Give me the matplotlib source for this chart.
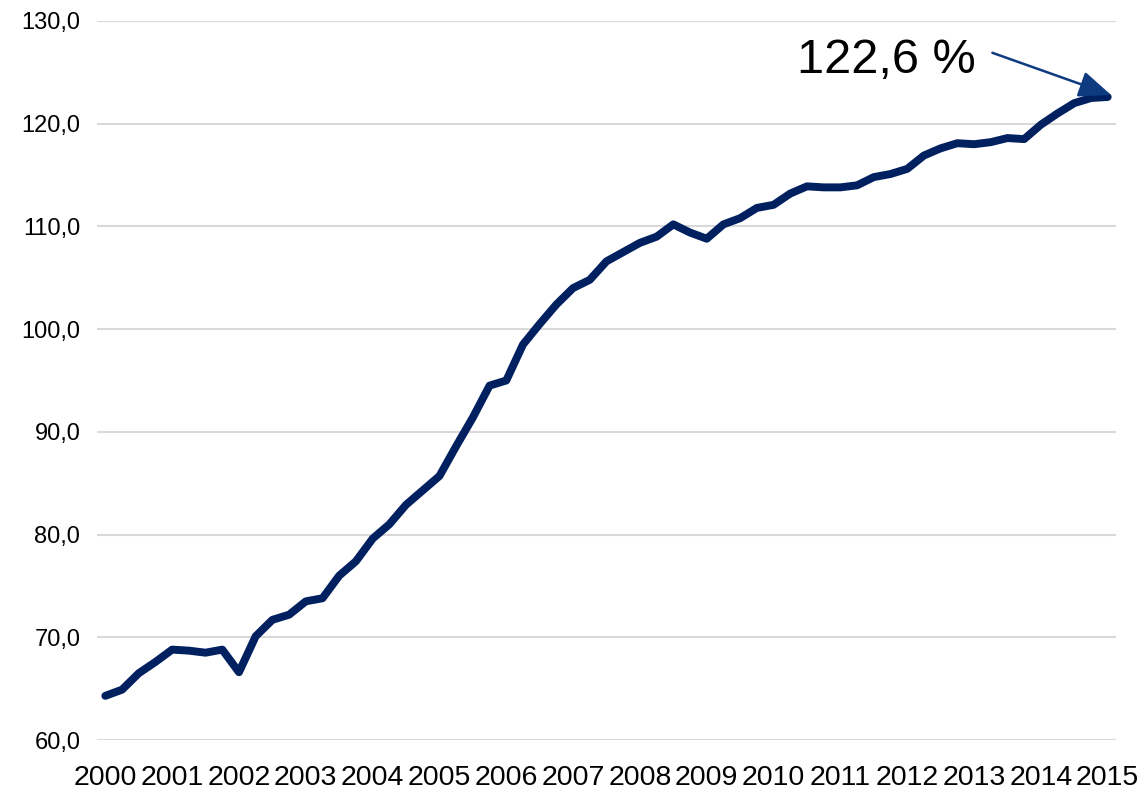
import matplotlib
matplotlib.use("Agg")
import matplotlib.pyplot as plt
from matplotlib.ticker import FuncFormatter

# quarterly index, 2000 Q1 .. 2015 Q1
values = [
    64.3, 64.9, 66.5, 67.6,
    68.8, 68.7, 68.5, 68.8,
    66.6, 70.1, 71.7, 72.2,
    73.5, 73.8, 76.0, 77.4,
    79.6, 81.0, 82.9, 84.3,
    85.7, 88.6, 91.4, 94.5,
    95.0, 98.5, 100.5, 102.4,
    104.0, 104.8, 106.6, 107.5,
    108.4, 109.0, 110.2, 109.4,
    108.8, 110.2, 110.8, 111.8,
    112.1, 113.2, 113.9, 113.8,
    113.8, 114.0, 114.8, 115.1,
    115.6, 116.9, 117.6, 118.1,
    118.0, 118.2, 118.6, 118.5,
    119.9, 121.0, 122.0, 122.5,
    122.6,
]
years = [str(y) for y in range(2000, 2016)]
y_ticks = [60, 70, 80, 90, 100, 110, 120, 130]
last_label = "122,6 %"

plt.rcParams["font.family"] = ["Liberation Sans", "DejaVu Sans"]

fig = plt.figure(figsize=(11.45, 7.94), dpi=100)
ax = fig.add_axes([0.0847, 0.068, 0.89, 0.9056])

x = list(range(len(values)))
ax.plot(x, values, color="#002060", lw=5.7, solid_joinstyle="round",
        solid_capstyle="round", zorder=3)

ax.set_xlim(-0.5, len(values) - 0.5)
ax.set_ylim(60, 130)
ax.set_yticks(y_ticks)
ax.yaxis.set_major_formatter(FuncFormatter(lambda v, p: f"{v:.1f}".replace(".", ",")))
ax.set_xticks([i * 4 for i in range(len(years))])
ax.set_xticklabels(years)

ax.grid(axis="y", color="#d9d9d9", lw=1.5)
ax.set_axisbelow(True)
for s in ax.spines.values():
    s.set_visible(False)
ax.tick_params(axis="y", length=0, labelsize=17, pad=12, colors="black")
ax.tick_params(axis="x", length=0, labelsize=20.5, pad=18, colors="black")

# label and arrow pointing at the last value
ax.text(52.1, 124.95, last_label, fontsize=35, ha="right", va="baseline")
ax.annotate("", xy=(x[-1] + 0.2, values[-1] + 0.2), xytext=(53.1, 126.9),
            arrowprops=dict(arrowstyle="-|>,head_length=1.1,head_width=0.45",
                            mutation_scale=18, color="#0e3a80", lw=1.8,
                            shrinkA=0, shrinkB=0), zorder=4)

fig.savefig("out.png", dpi=100)
